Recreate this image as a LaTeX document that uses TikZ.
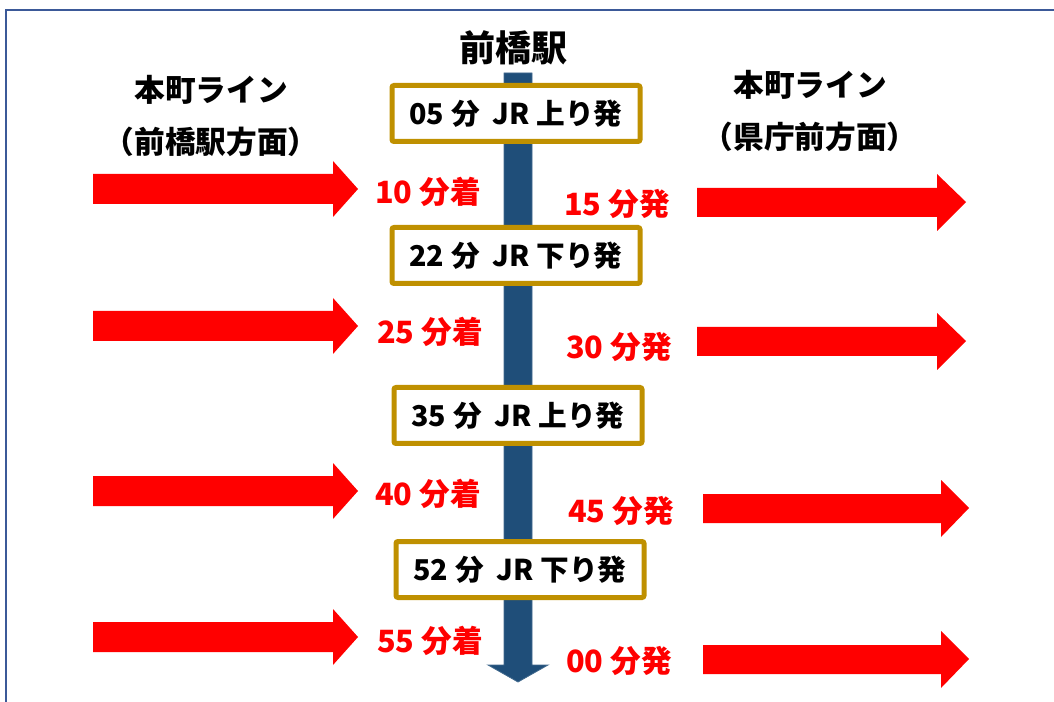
\documentclass[tikz,border=0pt]{standalone}
\usepackage{fontspec}
\setmainfont{Noto Sans CJK JP}
\definecolor{framecol}{RGB}{59,89,152}
\definecolor{boxgold}{RGB}{191,144,0}
\definecolor{barblue}{RGB}{31,78,121}
\definecolor{timered}{RGB}{255,0,0}
\tikzset{
  timebox/.style = {draw=boxgold, line width=3.75pt, fill=white, rounded corners=1.5pt,
    minimum width=186pt, minimum height=42pt, inner sep=0pt,
    font=\bfseries\fontsize{21.5}{25}\selectfont},
  linelabel/.style = {align=center, font=\bfseries\fontsize{23}{39}\selectfont},
  timelabel/.style = {text=timered, font=\bfseries\fontsize{23}{27}\selectfont},
  redarrow/.style = {fill=timered}
}

\begin{document}
\begin{tikzpicture}[x=0.75pt, y=-0.75pt]
  \useasboundingbox (0,0) rectangle (1054,702);
  % frame
  \draw[framecol, line width=2.2pt] (6,710) -- (6,10) -- (1060,10);
  % station
  \node [font=\bfseries\fontsize{27}{32}\selectfont] (station) at (513,48) {前橋駅};
  % blue line through the station
  \fill[barblue, draw=barblue!85!white, line width=0.6pt]
    (504,73) -- (532,73) -- (532,665) -- (548,665) -- (518,682) -- (488,665) -- (504,665) -- cycle;
  % departures
  \node [timebox] (dep05) at (516,113.5) {05 分 \ JR 上り発};
  \node [timebox] (dep22) at (516,255.5) {22 分 \ JR 下り発};
  \node [timebox] (dep35) at (518,415.5) {35 分 \ JR 上り発};
  \node [timebox] (dep52) at (520,569.5) {52 分 \ JR 下り発};
  % line labels
  \node [linelabel] (westline) at (211,116) {本町ライン\\（前橋駅方面）};
  \node [linelabel] (eastline) at (810,111) {本町ライン\\（県庁前方面）};
  % arrivals from the left
  \fill[redarrow] (93,174) -- (333,174) -- (333,161) -- (358,189) -- (333,217) -- (333,204) -- (93,204) -- cycle;
  \fill[redarrow] (93,311) -- (333,311) -- (333,298) -- (358,326) -- (333,354) -- (333,341) -- (93,341) -- cycle;
  \fill[redarrow] (93,476) -- (333,476) -- (333,463) -- (358,491) -- (333,519) -- (333,506) -- (93,506) -- cycle;
  \fill[redarrow] (93,622) -- (333,622) -- (333,609) -- (358,637) -- (333,665) -- (333,652) -- (93,652) -- cycle;
  \node [timelabel] (arr10) at (428,192) {10 分着};
  \node [timelabel] (arr25) at (430,332) {25 分着};
  \node [timelabel] (arr40) at (428,494) {40 分着};
  \node [timelabel] (arr55) at (430,641) {55 分着};
  % departures to the right
  \fill[redarrow] (697,188) -- (937,188) -- (937,174) -- (966,202) -- (937,231) -- (937,217) -- (697,217) -- cycle;
  \fill[redarrow] (697,327) -- (937,327) -- (937,313) -- (966,341) -- (937,370) -- (937,356) -- (697,356) -- cycle;
  \fill[redarrow] (703,494) -- (941,494) -- (941,480) -- (969,508) -- (941,537) -- (941,523) -- (703,523) -- cycle;
  \fill[redarrow] (703,645) -- (941,645) -- (941,631) -- (969,659) -- (941,688) -- (941,674) -- (703,674) -- cycle;
  \node [timelabel] (dep15) at (617,204) {15 分発};
  \node [timelabel] (dep30) at (619,347) {30 分発};
  \node [timelabel] (dep45) at (621,511) {45 分発};
  \node [timelabel] (dep00) at (619,661) {00 分発};
\end{tikzpicture}
\end{document}
